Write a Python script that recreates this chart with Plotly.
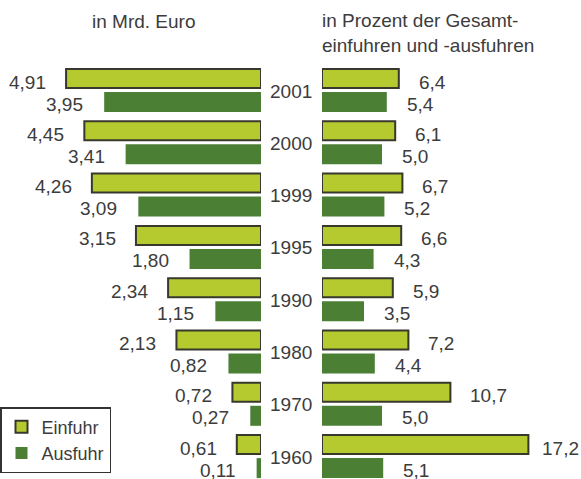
import plotly.graph_objects as go

years = ["2001", "2000", "1999", "1995", "1990", "1980", "1970", "1960"]
einfuhr_mrd = [4.91, 4.45, 4.26, 3.15, 2.34, 2.13, 0.72, 0.61]
ausfuhr_mrd = [3.95, 3.41, 3.09, 1.80, 1.15, 0.82, 0.27, 0.11]
einfuhr_pct = [6.4, 6.1, 6.7, 6.6, 5.9, 7.2, 10.7, 17.2]
ausfuhr_pct = [5.4, 5.0, 5.2, 4.3, 3.5, 4.4, 5.0, 5.1]

C_EIN = "#b5ca2f"
C_AUS = "#4a7f34"
C_LINE = "#38382e"
C_TXT = "#3c3c3c"
FONT = "Liberation Sans"

W, H = 581, 479
TOP = 64
PITCH = 52.3
PX_MRD = 39.7   # pixels per Mrd. Euro
PX_PCT = 12.0   # pixels per percent
X2MAX = 259 / PX_PCT


def de(v, nd):
    return f"{v:.{nd}f}".replace(".", ",")


fig = go.Figure()

ein_off, ein_w = -21 / PITCH, 19 / PITCH
aus_off, aus_w = 2 / PITCH, 20 / PITCH

fig.add_trace(go.Bar(y=years, x=einfuhr_mrd, orientation="h", name="Einfuhr",
                     xaxis="x", yaxis="y", offset=ein_off, width=ein_w,
                     marker=dict(color=C_EIN, line=dict(color=C_LINE, width=2)),
                     showlegend=True, hoverinfo="skip"))
fig.add_trace(go.Bar(y=years, x=ausfuhr_mrd, orientation="h", name="Ausfuhr",
                     xaxis="x", yaxis="y", offset=aus_off, width=aus_w,
                     marker=dict(color=C_AUS, line=dict(color=C_AUS, width=0)),
                     showlegend=True, hoverinfo="skip"))
fig.add_trace(go.Bar(y=years, x=einfuhr_pct, orientation="h", name="Einfuhr",
                     xaxis="x2", yaxis="y", offset=ein_off, width=ein_w,
                     marker=dict(color=C_EIN, line=dict(color=C_LINE, width=2)),
                     showlegend=False, hoverinfo="skip"))
fig.add_trace(go.Bar(y=years, x=ausfuhr_pct, orientation="h", name="Ausfuhr",
                     xaxis="x2", yaxis="y", offset=aus_off, width=aus_w,
                     marker=dict(color=C_AUS, line=dict(color=C_AUS, width=0)),
                     showlegend=False, hoverinfo="skip"))


def right_shift(v):
    # keep the label inside the figure
    return int(min(18, (X2MAX - v) * PX_PCT - 40))


ann = []
vfont = dict(family=FONT, size=19, color=C_TXT)
for i, yr in enumerate(years):
    ann.append(dict(xref="x", yref="y", x=einfuhr_mrd[i], y=i, text=de(einfuhr_mrd[i], 2),
                    xanchor="right", yanchor="middle", xshift=-18, yshift=8,
                    showarrow=False, font=vfont))
    ann.append(dict(xref="x", yref="y", x=ausfuhr_mrd[i], y=i, text=de(ausfuhr_mrd[i], 2),
                    xanchor="right", yanchor="middle", xshift=-19, yshift=-14,
                    showarrow=False, font=vfont))
    ann.append(dict(xref="x2", yref="y", x=einfuhr_pct[i], y=i, text=de(einfuhr_pct[i], 1),
                    xanchor="left", yanchor="middle", xshift=right_shift(einfuhr_pct[i]), yshift=8,
                    showarrow=False, font=vfont))
    ann.append(dict(xref="x2", yref="y", x=ausfuhr_pct[i], y=i, text=de(ausfuhr_pct[i], 1),
                    xanchor="left", yanchor="middle", xshift=right_shift(ausfuhr_pct[i]), yshift=-14,
                    showarrow=False, font=vfont))
    ann.append(dict(xref="paper", yref="y", x=291 / W, y=i, text=yr,
                    xanchor="center", yanchor="middle", yshift=-1,
                    showarrow=False, font=vfont))

ann.append(dict(xref="paper", yref="paper", x=143 / W, y=1, yshift=30,
                text="in Mrd. Euro", xanchor="center", yanchor="bottom",
                showarrow=False, font=dict(family=FONT, size=19, color=C_TXT)))
ann.append(dict(xref="paper", yref="paper", x=320 / W, y=1, yshift=6,
                text="in Prozent der Gesamt-<br>einfuhren und -ausfuhren",
                xanchor="left", yanchor="bottom", align="left",
                showarrow=False, font=dict(family=FONT, size=19, color=C_TXT)))

plot_h = H - TOP
yr0 = -26 / PITCH
yr1 = yr0 + plot_h / PITCH

fig.update_layout(
    width=W, height=H,
    margin=dict(l=0, r=0, t=TOP, b=0, pad=0),
    paper_bgcolor="white", plot_bgcolor="white",
    barmode="overlay",
    showlegend=True,
    legend=dict(x=0, y=(H - 407) / plot_h, xanchor="left", yanchor="top",
                bgcolor="white", bordercolor="#333333", borderwidth=1.5,
                font=dict(family=FONT, size=18, color=C_TXT),
                tracegroupgap=0, itemsizing="constant"),
    xaxis=dict(domain=[0, 261 / W], range=[261 / PX_MRD, 0], visible=False, fixedrange=True),
    xaxis2=dict(domain=[322 / W, 1], range=[0, X2MAX], visible=False, fixedrange=True),
    yaxis=dict(type="category", categoryarray=years, categoryorder="array",
               range=[yr1, yr0], visible=False, fixedrange=True),
    annotations=ann,
    font=dict(family=FONT, color=C_TXT),
)

fig.write_html("out.html", config={"displayModeBar": False},
               post_script="document.body.style.margin='0';")
